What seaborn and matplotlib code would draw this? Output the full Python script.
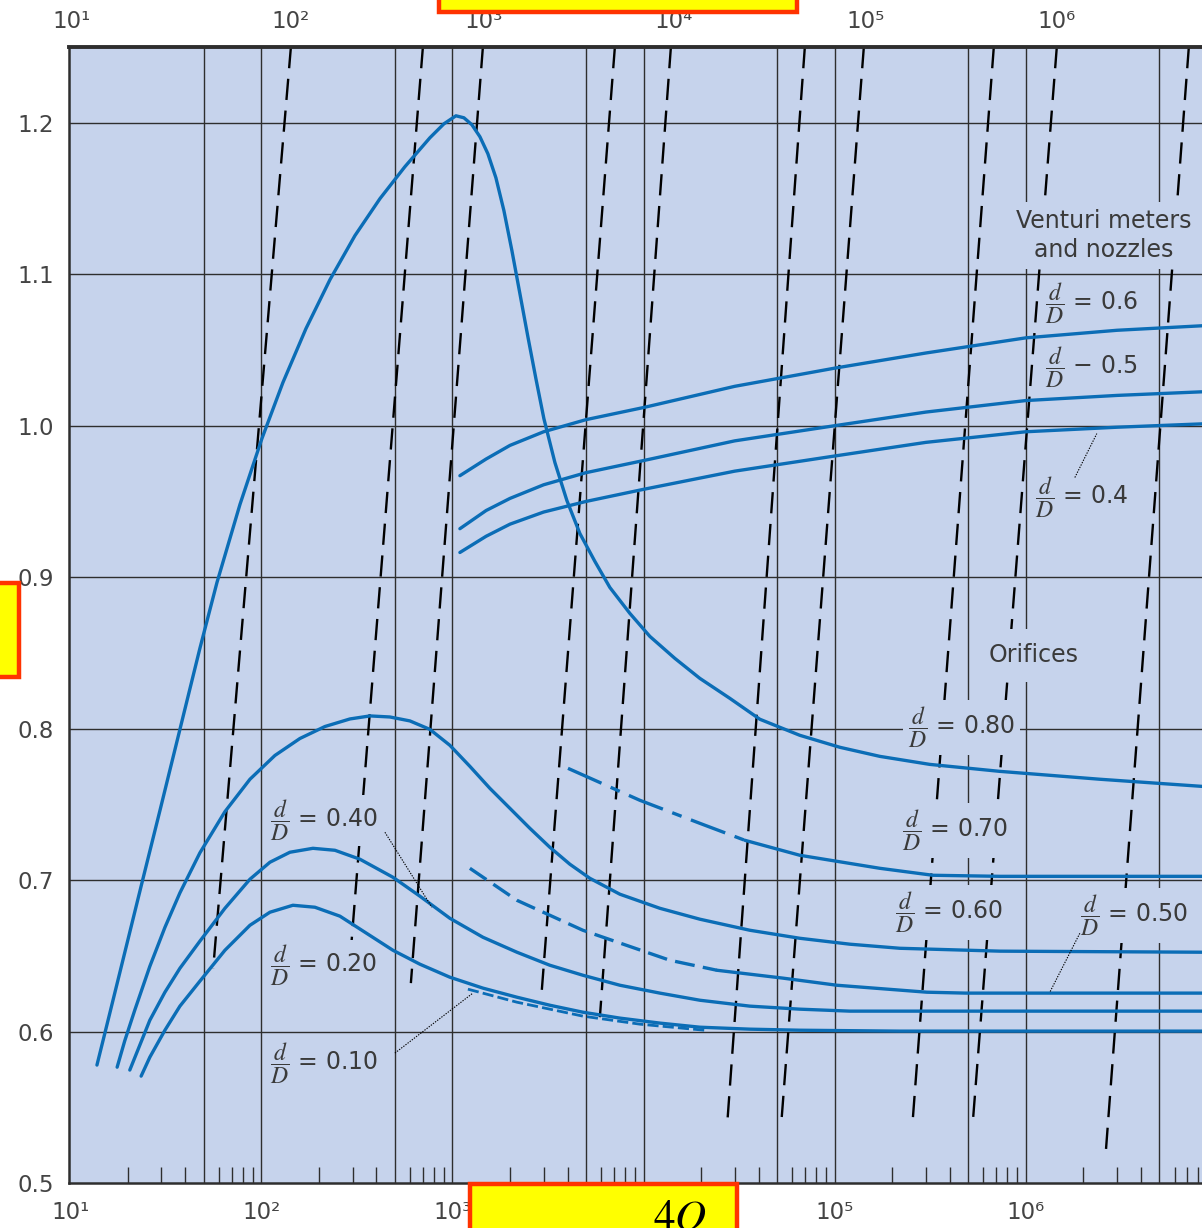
import matplotlib
matplotlib.use("Agg")
import matplotlib.pyplot as plt
import seaborn as sns
from matplotlib.patches import Rectangle
from matplotlib.ticker import NullFormatter

# ------------------------------------------------------------------ data
# Orifice curves (Reynolds number, flow coefficient K)
or80_re = [13.8, 15.0, 18.2, 23.7, 29.5, 37.5, 47.7, 58.6, 77.3, 100.7, 129.7, 171.2, 228.6,
           308.9, 417.5, 564, 762.3, 902.3, 1043, 1148, 1264, 1392, 1532, 1688, 1859, 2047,
           2254, 2481, 2733, 3009, 3436, 3970, 4644, 5564, 6664, 8479, 10790, 14580, 19700,
           28290, 40600, 65720, 106400, 172300, 314700, 731200, 2.439e6, 8.33e6, 1e7]
or80_k = [0.5779, 0.5963, 0.6392, 0.6979, 0.7461, 0.7995, 0.8530, 0.8965, 0.9480, 0.9915,
          1.0285, 1.0641, 1.0964, 1.1255, 1.1499, 1.1710, 1.1901, 1.1993, 1.2046, 1.2033,
          1.1987, 1.1908, 1.1796, 1.1637, 1.1420, 1.1156, 1.0872, 1.0588, 1.0311, 1.0047,
          0.9757, 0.9506, 0.9288, 0.9104, 0.8932, 0.8761, 0.8609, 0.8464, 0.8332, 0.8200,
          0.8062, 0.7956, 0.7877, 0.7817, 0.7764, 0.7718, 0.7666, 0.7619, 0.7615]

or70_dash_re = [4023, 9565, 19700, 33880]
or70_dash_k = [0.7738, 0.7527, 0.7375, 0.7263]
or70_re = [33880, 65720, 172300, 326100, 731200, 8.33e6, 1e7]
or70_k = [0.7263, 0.7164, 0.7078, 0.7032, 0.7025, 0.7025, 0.7025]

or60_re = [17.6, 19.3, 21.8, 26.1, 31.3, 37.5, 47.7, 64.5, 87.2, 117.8, 159.2, 215.1, 290.8,
           370, 470.9, 599.1, 762.3, 969.6, 1234, 1570, 1998, 2542, 3233, 4115, 5236, 7516,
           12170, 19700, 35980, 65720, 120000, 219200, 731200, 8.33e6, 1e7]
or60_k = [0.5765, 0.5940, 0.6144, 0.6431, 0.6688, 0.6916, 0.7180, 0.7452, 0.7666, 0.7823,
          0.7935, 0.8014, 0.8064, 0.8084, 0.8077, 0.8051, 0.7995, 0.7890, 0.7751, 0.7606,
          0.7474, 0.7342, 0.7217, 0.7105, 0.7012, 0.6907, 0.6814, 0.6742, 0.6669, 0.6616,
          0.6577, 0.6550, 0.6531, 0.6524, 0.6524]

or50_dash_re = [1234, 2173, 4812, 13720, 24170]
or50_dash_k = [0.7078, 0.6867, 0.6669, 0.6471, 0.6405]
or50_re = [24170, 53550, 102600, 303400, 485500, 8.33e6, 1e7]
or50_k = [0.6405, 0.6353, 0.6306, 0.6260, 0.6254, 0.6254, 0.6254]

or40_re = [20.5, 26.1, 31.3, 37.5, 47.7, 64.5, 87.2, 110.9, 141.1, 186.2, 242.7, 328.0, 488,
           675.4, 969.6, 1443, 2174, 3233, 4813, 7516, 12170, 19700, 35980, 65720, 120000,
           8.33e6, 1e7]
or40_k = [0.5746, 0.6075, 0.6260, 0.6418, 0.6597, 0.6814, 0.7006, 0.7118, 0.7184, 0.7210,
          0.7197, 0.7138, 0.7019, 0.6894, 0.6748, 0.6623, 0.6524, 0.6438, 0.6372, 0.6306,
          0.6254, 0.6207, 0.6168, 0.6148, 0.6135, 0.6135, 0.6135]

or20_re = [23.5, 26.1, 31.3, 37.5, 47.7, 64.5, 87.2, 110.9, 146.3, 190.7, 257.8, 348.3, 488,
           675.4, 969.6, 1443, 2174, 3233, 4813, 7516, 12170, 19700, 35980, 65720, 219200,
           8.33e6, 1e7]
or20_k = [0.5706, 0.5831, 0.6009, 0.6168, 0.6333, 0.6537, 0.6702, 0.6788, 0.6834, 0.6821,
          0.6762, 0.6656, 0.6537, 0.6445, 0.6359, 0.6287, 0.6227, 0.6174, 0.6128, 0.6089,
          0.6056, 0.6029, 0.6016, 0.6009, 0.6003, 0.6003, 0.6003]

or10_dash_re = [1205, 2174, 4813, 9565, 20790]
or10_dash_k = [0.6280, 0.6194, 0.6102, 0.6049, 0.6009]

# Venturi meters and nozzles
ven_re = [1094, 1500, 2000, 3000, 5000, 10000, 30000, 1e5, 3e5, 1e6, 3e6, 1e7]
ven60_k = [0.967, 0.978, 0.987, 0.996, 1.004, 1.012, 1.026, 1.038, 1.048, 1.058, 1.063, 1.0665]
ven50_k = [0.932, 0.944, 0.952, 0.961, 0.969, 0.977, 0.990, 1.000, 1.009, 1.0166, 1.020, 1.0228]
ven40_k = [0.9163, 0.927, 0.935, 0.943, 0.950, 0.958, 0.970, 0.980, 0.989, 0.996, 0.999, 1.0016]

# Dashed guide lines: Re at the top of the chart (K = 1.25) and at their lower end
dash_k_top = 1.25
dash_re_top = [142.8, 700.4, 1443, 7078, 13900, 69800, 142100, 680200, 1.453e6, 7.13e6]
dash_re_bot = [56.0, 296.9, 606, 2927, 5908, 27540, 52660, 254500, 525800, 2.622e6]
dash_k_bot = [0.6418, 0.6603, 0.632, 0.6254, 0.6095, 0.5429, 0.5409, 0.537, 0.537, 0.5205]

# Axes / ticks
grid_x = [50, 100, 500, 1000, 5000, 1e4, 5e4, 1e5, 5e5, 1e6, 5e6]
grid_k = [0.6, 0.7, 0.8, 0.9, 1.0, 1.1, 1.2]
bottom_tick_vals = [10, 100, 1000, 1e4, 1e5, 1e6]
bottom_tick_labels = ["10¹", "10²", "10³", "10⁴", "10⁵", "10⁶"]
top_tick_vals = [10.2, 143, 1450, 14300, 145000, 1.45e6]
top_tick_labels = ["10¹", "10²", "10³", "10⁴", "10⁵", "10⁶"]
y_tick_vals = [0.5, 0.6, 0.7, 0.8, 0.9, 1.0, 1.1, 1.2]
y_tick_labels = ["0.5", "0.6", "0.7", "0.8", "0.9", "1.0", "1.1", "1.2"]
x_minor_mult = [2, 3, 4, 6, 7, 8, 9]
x_minor_decades = [10, 100, 1000, 1e4, 1e5, 1e6]
y_minor_vals = [0.525, 0.55, 0.575, 0.625, 0.65, 0.675, 0.725, 0.75, 0.775, 0.825, 0.85, 0.875,
                0.925, 0.95, 0.975, 1.025, 1.05, 1.075, 1.125, 1.15, 1.175, 1.225]

# Annotations: (text, Re, K, ha, mask padding)
FR = r"$\dfrac{d}{D}$"
labels = [
    ("Venturi meters\nand nozzles", 2.56e6, 1.1255, "center", 0.3),
    (FR + " = 0.6", 1.257e6, 1.0806, "left", 0.08),
    (FR + " − 0.5", 1.257e6, 1.0384, "left", 0.08),
    (FR + " = 0.4", 1.114e6, 0.9526, "left", 0.1),
    ("Orifices", 1.101e6, 0.8484, "center", 0.6),
    (FR + " = 0.80", 241300, 0.8009, "left", 0.2),
    (FR + " = 0.70", 224500, 0.7329, "left", 0.2),
    (FR + " = 0.60", 206400, 0.6788, "left", 0.2),
    (FR + " = 0.50", 1.917e6, 0.6768, "left", 0.2),
    (FR + " = 0.40", 110.9, 0.7395, "left", 0.12),
    (FR + " = 0.20", 110.9, 0.6438, "left", 0.12),
    (FR + " = 0.10", 110.9, 0.5792, "left", 0.12),
]
# Leader lines (Re pair, K pair)
leaders = [
    ([1.806e6, 2.353e6], [0.9658, 0.9948]),
    ([1.917e6, 1.336e6], [0.6649, 0.6260]),
    ([443.3, 780.6], [0.7316, 0.6821]),
    ([499.9, 1279], [0.5858, 0.6254]),
]

# ------------------------------------------------------------------ style
BG = "#C6D3EC"
BLUE = "#0B6DB6"
GRID = "#2E2E2E"
TXT = "#3A3A3A"

sns.set_style("white")
plt.rcParams["font.family"] = ["DejaVu Sans"]
plt.rcParams["mathtext.fontset"] = "stix"

fig = plt.figure(figsize=(12.02, 12.28), dpi=100)
ax = fig.add_axes([0.0573, 0.0366, 0.9551, 0.9251])
ax.set_facecolor(BG)
ax.set_xscale("log")
ax.set_xlim(9.84, 1e7)
ax.set_ylim(0.5, 1.25)

for v in grid_x:
    ax.axvline(v, color=GRID, lw=1.0, zorder=1)
for k in grid_k:
    ax.axhline(k, color=GRID, lw=1.0, zorder=1)

# dashed guide lines
for rt, rb, kb in zip(dash_re_top, dash_re_bot, dash_k_bot):
    sns.lineplot(x=[rt, rb], y=[dash_k_top, kb], ax=ax, color="black", lw=1.7,
                 linestyle=(0, (9, 4.5)), sort=False, estimator=None, zorder=2)

CW = 2.4
solid = [(or80_re, or80_k), (or70_re, or70_k), (or60_re, or60_k), (or50_re, or50_k),
         (or40_re, or40_k), (or20_re, or20_k), (ven_re, ven60_k), (ven_re, ven50_k),
         (ven_re, ven40_k)]
for xs, ys in solid:
    sns.lineplot(x=xs, y=ys, ax=ax, color=BLUE, lw=CW, sort=False, estimator=None, zorder=4)
sns.lineplot(x=or70_dash_re, y=or70_dash_k, ax=ax, color=BLUE, lw=CW,
             linestyle=(0, (11, 3, 3, 3)), sort=False, estimator=None, zorder=4)
sns.lineplot(x=or50_dash_re, y=or50_dash_k, ax=ax, color=BLUE, lw=CW,
             linestyle=(0, (6, 2.5)), sort=False, estimator=None, zorder=4)
sns.lineplot(x=or10_dash_re, y=or10_dash_k, ax=ax, color=BLUE, lw=2.0,
             linestyle=(0, (4, 1.5)), sort=False, estimator=None, zorder=4)

for xs, ys in leaders:
    sns.lineplot(x=xs, y=ys, ax=ax, color="black", lw=0.8, linestyle=(0, (1.2, 1.2)),
                 sort=False, estimator=None, zorder=5)

for s, x, y, ha, pad in labels:
    ax.text(x, y, s, fontsize=17, color=TXT, ha=ha, va="center", zorder=3,
            linespacing=1.25,
            bbox=dict(boxstyle=f"square,pad={pad}", fc=BG, ec="none"))

# ticks
ax.set_xticks(bottom_tick_vals, labels=bottom_tick_labels)
ax.set_xticks([m * d for d in x_minor_decades for m in x_minor_mult], minor=True)
ax.xaxis.set_minor_formatter(NullFormatter())
ax.tick_params(axis="x", which="major", length=0, pad=13, labelsize=16.5, labelcolor="#444")
ax.tick_params(axis="x", which="minor", direction="in", length=11.5, width=1.0, color=GRID,
               bottom=True, top=False)
ax.set_yticks(y_tick_vals, labels=y_tick_labels)
ax.set_yticks(y_minor_vals, minor=True)
ax.tick_params(axis="y", which="major", length=0, pad=11, labelsize=16.5, labelcolor="#444")
ax.tick_params(axis="y", which="minor", direction="in", length=12, width=1.0, color=GRID,
               left=True, right=False)
ax.set_xlabel("")
ax.set_ylabel("")

for side, lw in [("left", 1.8), ("bottom", 1.8), ("top", 2.8)]:
    ax.spines[side].set_color(GRID)
    ax.spines[side].set_linewidth(lw)
ax.spines["right"].set_visible(False)

axt = ax.twiny()
axt.set_xscale("log")
axt.set_xlim(ax.get_xlim())
axt.set_xticks(top_tick_vals, labels=top_tick_labels)
axt.xaxis.set_minor_formatter(NullFormatter())
axt.tick_params(axis="x", which="both", length=0, pad=10, labelsize=16.5, labelcolor="#444")
axt.minorticks_off()
for sp in axt.spines.values():
    sp.set_visible(False)

# masked axis-title boxes
for (x0, y0, w, h) in [(0.3652, 0.9905, 0.298, 0.05), (-0.02, 0.4487, 0.0358, 0.0765),
                       (0.391, -0.05, 0.222, 0.0858)]:
    fig.add_artist(Rectangle((x0, y0), w, h, transform=fig.transFigure, fc="#FFFF00",
                             ec="#FF3300", lw=3.2, zorder=10, clip_on=False))
fig.text(0.543, -0.002, r"$4Q$", fontsize=31, color="black", zorder=11)

fig.savefig("out.png", dpi=100)
